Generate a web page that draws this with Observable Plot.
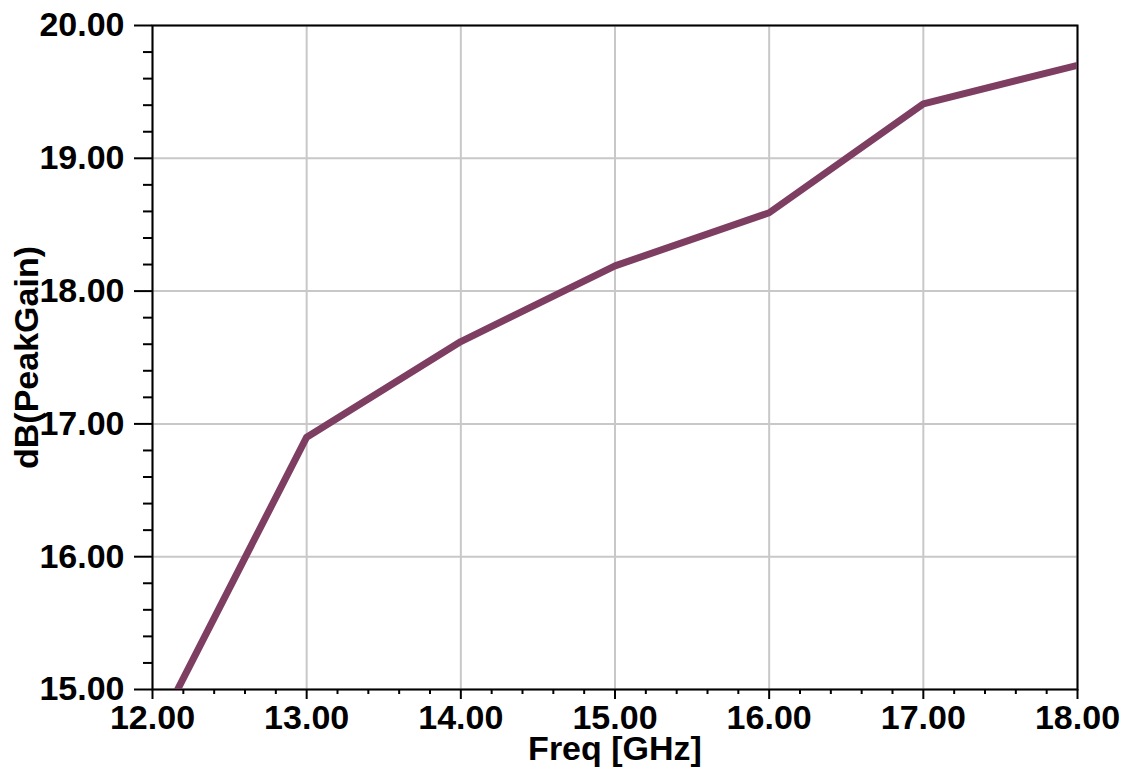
<!DOCTYPE html>
<html>
<head>
<meta charset="utf-8">
<script src="https://cdn.jsdelivr.net/npm/d3@7"></script>
<script src="https://cdn.jsdelivr.net/npm/@observablehq/plot@0.6"></script>
<style>
  html, body { margin: 0; padding: 0; background: #fff; }
</style>
</head>
<body>
<div id="chart"></div>
<script>
const freq = [12, 13, 14, 15, 16, 17, 18];
const peakGain = [14.63, 16.90, 17.62, 18.19, 18.59, 19.41, 19.70];
const xTicks = [12, 13, 14, 15, 16, 17, 18];
const yTicks = [15, 16, 17, 18, 19, 20];
const xLabel = "Freq [GHz]";
const yLabel = "dB(PeakGain)";

const data = freq.map((f, i) => ({f, g: peakGain[i]}));
const minorX = d3.range(12, 18.0001, 0.2).filter(v => Math.abs(v - Math.round(v)) > 1e-6);
const minorY = d3.range(15, 20.0001, 0.2).filter(v => Math.abs(v - Math.round(v)) > 1e-6);
const fmt = d3.format(".2f");
const font = "'Liberation Sans', Arial, Helvetica, sans-serif";

const chart = Plot.plot({
  width: 1126,
  height: 767,
  marginLeft: 152,
  marginRight: 49,
  marginTop: 25,
  marginBottom: 78,
  x: {domain: [12, 18]},
  y: {domain: [15, 20]},
  style: {fontFamily: font, fontWeight: "bold", fontSize: "34px", color: "black", background: "white"},
  marks: [
    Plot.gridX(xTicks, {stroke: "#c8c8c8", strokeOpacity: 1, strokeWidth: 2}),
    Plot.gridY(yTicks, {stroke: "#c8c8c8", strokeOpacity: 1, strokeWidth: 2}),
    Plot.frame({stroke: "black", strokeWidth: 2}),
    Plot.line(data, {x: "f", y: "g", stroke: "#7e3e62", strokeWidth: 7, clip: true}),
    Plot.axisY(yTicks, {tickSize: 18, tickPadding: 10, tickFormat: fmt, strokeWidth: 2, fontSize: 34, fontWeight: "bold", label: null}),
    Plot.axisY(minorY, {tickSize: 9, tickFormat: () => "", strokeWidth: 2, label: null}),
    Plot.axisX(xTicks, {tickSize: 10, tickPadding: 5, tickFormat: fmt, strokeWidth: 2, fontSize: 34, fontWeight: "bold", label: null}),
    Plot.axisX(minorX, {tickSize: 5, tickFormat: () => "", strokeWidth: 2, label: null}),
    Plot.text([xLabel], {frameAnchor: "bottom", dy: 60, fontSize: 34, fontWeight: "bold", fill: "black", textAnchor: "middle", lineAnchor: "middle"}),
    Plot.text([yLabel], {frameAnchor: "left", dx: -125, rotate: -90, fontSize: 34, fontWeight: "bold", fill: "black", textAnchor: "middle", lineAnchor: "middle"})
  ]
});
document.getElementById("chart").appendChild(chart);
</script>
</body>
</html>
